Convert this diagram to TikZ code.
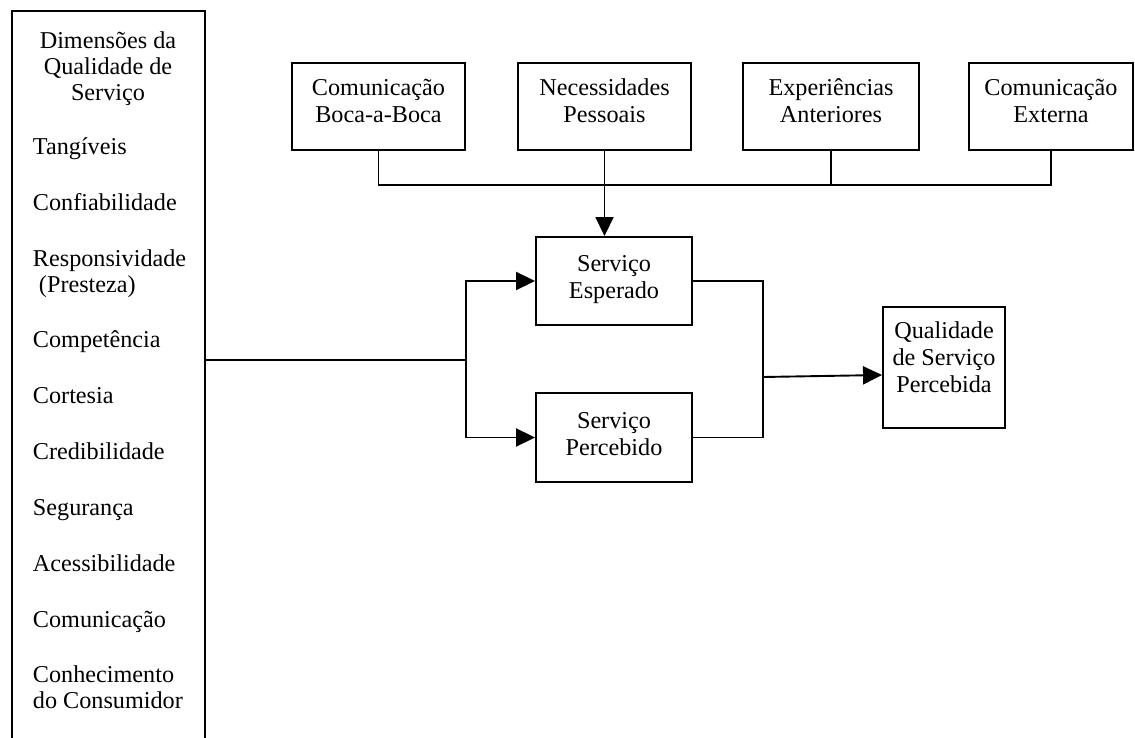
\documentclass[tikz,border=0pt]{standalone}
\usepackage{fontspec}
\setmainfont{Liberation Serif}
\usetikzlibrary{arrows.meta}
\begin{document}
\begin{tikzpicture}[x=1pt,y=-1pt,
  line width=1.9pt,
  every node/.style={font=\fontsize{24.2}{27}\selectfont},
  box/.style={draw, line width=1.9pt, inner sep=0pt},
  txt/.style={align=center, inner sep=0pt},
  item/.style={anchor=base west, inner sep=0pt},
  head/.style={anchor=base, inner sep=0pt},
  arr/.style={-{Triangle[length=19pt,width=18pt]}},
]
\useasboundingbox (0,0) rectangle (1135,738);

% column of quality dimensions (open at the bottom)
\draw (12,738) -- (12,11) -- (205,11) -- (205,738);
\node[head] (hd1) at (108,49)  {Dimensões da};
\node[head] (hd2) at (108,75)  {Qualidade de};
\node[head] (hd3) at (108,101) {Serviço};
\node[item] (d1)  at (32,155) {Tangíveis};
\node[item] (d2)  at (32,211) {Confiabilidade};
\node[item] (d3)  at (32,266) {Responsividade};
\node[item] (d3b) at (32,292) {\ (Presteza)};
\node[item] (d4)  at (32,347) {Competência};
\node[item] (d5)  at (32,403) {Cortesia};
\node[item] (d6)  at (32,459) {Credibilidade};
\node[item] (d7)  at (32,515) {Segurança};
\node[item] (d8)  at (32,571) {Acessibilidade};
\node[item] (d9)  at (32,627) {Comunicação};
\node[item] (d10) at (32,682) {Conhecimento};
\node[item] (d10b) at (32,708) {do Consumidor};

% sources of expectation
\node[box, minimum width=173pt, minimum height=87pt] (boca)    at (378.5,106.5) {};
\node[box, minimum width=173pt, minimum height=87pt] (necess)  at (604.5,106.5) {};
\node[box, minimum width=176pt, minimum height=87pt] (exper)   at (831,106.5)   {};
\node[box, minimum width=164pt, minimum height=87pt] (externa) at (1051,106.5)  {};
\node[txt] (bocat)    at ([yshift=6pt]boca.center)    {Comunicação\\Boca-a-Boca};
\node[txt] (necesst)  at ([yshift=6pt]necess.center)  {Necessidades\\Pessoais};
\node[txt] (expert)   at ([yshift=6pt]exper.center)   {Experiências\\Anteriores};
\node[txt] (externat) at ([yshift=6pt]externa.center) {Comunicação\\Externa};

% expected / perceived service and result
\node[box, minimum width=156pt, minimum height=88pt]  (esperado)  at (614,281)   {};
\node[box, minimum width=156pt, minimum height=89pt]  (percebido) at (614,437.5) {};
\node[box, minimum width=122pt, minimum height=121pt] (qual)      at (944,367.5) {};
\node[txt] (esperadot)  at ([yshift=1pt]esperado.center)  {Serviço\\Esperado};
\node[txt] (percebidot) at ([yshift=3pt]percebido.center) {Serviço\\Percebido};
\node[txt] (qualt)      at ([yshift=10pt]qual.center)     {Qualidade\\de Serviço\\Percebida};

% connectors
\coordinate (bus) at (0,185);
\draw (boca.south) -- (boca.south |- bus) -| (externa.south);
\draw (exper.south) -- (exper.south |- bus);
\draw[arr] (necess.south) -- (necess.south |- esperado.north);

\coordinate (dimsout) at (205,360);
\coordinate (split) at (466,360);
\draw (dimsout) -- (split);
\draw[arr] (split) |- (esperado.west);
\draw[arr] (split) |- (percebido.west);

\coordinate (joinx) at (763,0);
\coordinate (merge) at (763,377);
\draw (esperado.east) -| (joinx |- percebido.east) -- (percebido.east);
\draw[arr] (merge) -- ([yshift=-7.5pt]qual.west);
\end{tikzpicture}
\end{document}
